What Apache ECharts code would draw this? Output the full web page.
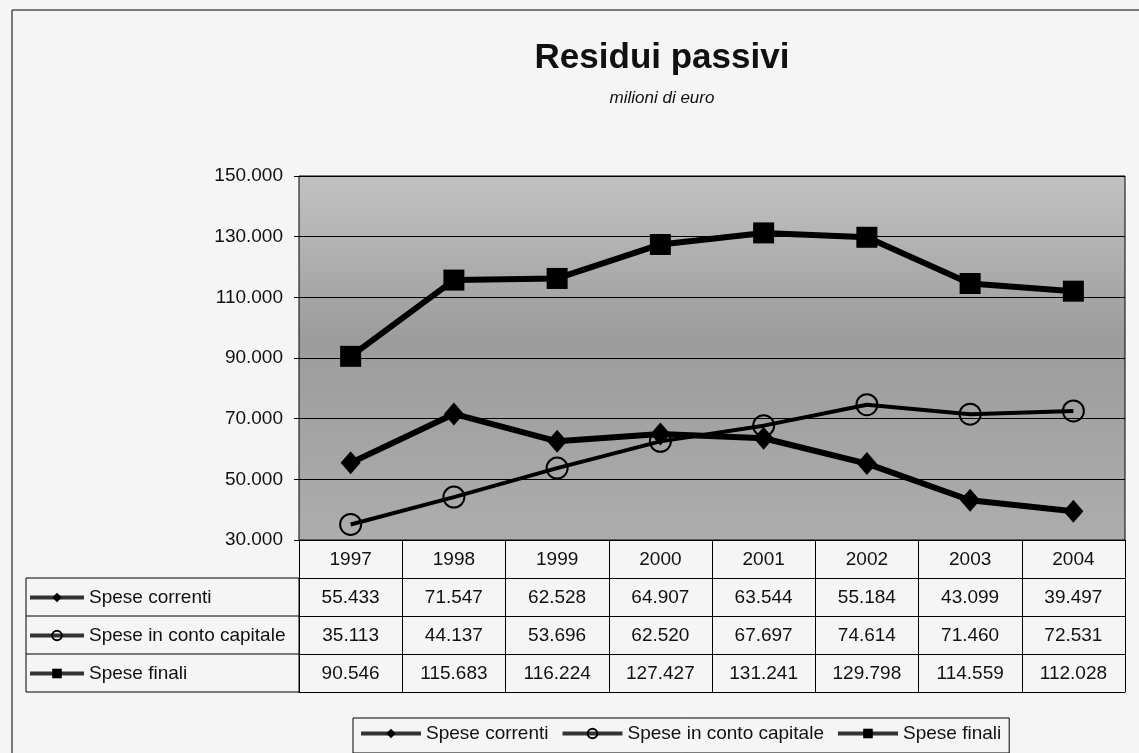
<!DOCTYPE html>
<html>
<head>
<meta charset="utf-8">
<title>Residui passivi</title>
<script src="https://cdn.jsdelivr.net/npm/echarts@6/dist/echarts.min.js"></script>
<style>
  html, body { margin: 0; padding: 0; background: #f5f5f5; }
  #chart { width: 1139px; height: 753px; }
</style>
</head>
<body>
<div id="chart"></div>
<script>
// dati (milioni di euro)
var anni = ['1997', '1998', '1999', '2000', '2001', '2002', '2003', '2004'];
var speseCorrenti = [55433, 71547, 62528, 64907, 63544, 55184, 43099, 39497];
var speseCapitale = [35113, 44137, 53696, 62520, 67697, 74614, 71460, 72531];
var speseFinali = [90546, 115683, 116224, 127427, 131241, 129798, 114559, 112028];
var nomiSerie = ['Spese correnti', 'Spese in conto capitale', 'Spese finali'];
var valoriSerie = [speseCorrenti, speseCapitale, speseFinali];

var FONT = '"Liberation Sans", Arial, sans-serif';
var ROW = 38;

// separatore migliaia con il punto
function fmt(v) {
    return String(v).replace(/\B(?=(\d{3})+(?!\d))/g, '.');
}

var myChart = echarts.init(document.getElementById('chart'));

// assi x della tabella: intestazione + una riga per serie
var xAxes = [{
    type: 'category',
    data: anni,
    position: 'bottom',
    boundaryGap: true,
    axisLine: { show: true, lineStyle: { color: '#000', width: 1 } },
    axisTick: { show: true, interval: 0, length: ROW, lineStyle: { color: '#000', width: 1 } },
    axisLabel: { interval: 0, margin: 10, fontSize: 19, color: '#111', fontFamily: FONT }
}];
valoriSerie.forEach(function (vals, i) {
    xAxes.push({
        type: 'category',
        data: anni,
        position: 'bottom',
        offset: ROW * (i + 1),
        boundaryGap: true,
        axisLine: { show: true, lineStyle: { color: '#000', width: 1 } },
        axisTick: { show: true, interval: 0, length: ROW, lineStyle: { color: '#000', width: 1 } },
        axisLabel: {
            interval: 0, margin: 10, fontSize: 19, color: '#111', fontFamily: FONT,
            formatter: function (v, idx) { return fmt(vals[idx]); }
        }
    });
});
// linea di chiusura della tabella
xAxes.push({
    type: 'category',
    data: anni,
    position: 'bottom',
    offset: ROW * 4,
    axisLine: { show: true, lineStyle: { color: '#000', width: 1 } },
    axisTick: { show: false },
    axisLabel: { show: false }
});

var simboli = ['diamond', 'circle', 'rect'];
var dimensioni = [[20, 23], 21, 21];
var spessori = [6, 4, 6];

var series = valoriSerie.map(function (vals, i) {
    return {
        name: nomiSerie[i],
        type: 'line',
        data: vals,
        symbol: simboli[i],
        symbolSize: dimensioni[i],
        showAllSymbol: true,
        lineStyle: { color: '#000', width: spessori[i] },
        itemStyle: i === 1
            ? { color: 'rgba(0,0,0,0)', borderColor: '#000', borderWidth: 2 }
            : { color: '#000', borderColor: '#000', borderWidth: 0 },
        emphasis: { disabled: true },
        z: 3 - i
    };
});

// legende: una per riga della tabella + quella in basso
var righeTop = [588, 626, 664];
var legends = nomiSerie.map(function (n, i) {
    return {
        data: [n],
        left: 28,
        top: righeTop[i],
        padding: 0,
        itemWidth: 54,
        itemHeight: 12,
        itemGap: 5,
        selectedMode: false,
        lineStyle: { width: 4, color: '#333' },
        textStyle: { fontSize: 19, color: '#111', fontFamily: FONT }
    };
});
legends.push({
    data: nomiSerie,
    left: 353,
    top: 718,
    padding: [6, 8, 10, 6],
    itemWidth: 60,
    itemHeight: 12,
    itemGap: 12,
    borderColor: '#000',
    borderWidth: 1,
    selectedMode: false,
    lineStyle: { width: 4, color: '#333' },
    textStyle: { fontSize: 19, color: '#111', fontFamily: FONT }
});

var option = {
    backgroundColor: '#f5f5f5',
    animation: false,
    title: {
        text: 'Residui passivi',
        subtext: 'milioni di euro',
        left: 657,
        top: 36,
        textAlign: 'center',
        itemGap: 14,
        textStyle: { fontSize: 35, fontWeight: 'bold', color: '#111', fontFamily: FONT },
        subtextStyle: { fontSize: 17, fontStyle: 'italic', color: '#111', fontFamily: FONT }
    },
    legend: legends,
    grid: {
        left: 299,
        right: 14,
        top: 176,
        bottom: 213,
        show: true,
        borderColor: '#000',
        borderWidth: 1,
        backgroundColor: {
            type: 'linear', x: 0, y: 0, x2: 0, y2: 1,
            colorStops: [
                { offset: 0, color: '#c2c2c2' },
                { offset: 0.45, color: '#9c9c9c' },
                { offset: 1, color: '#adadad' }
            ]
        }
    },
    xAxis: xAxes,
    yAxis: {
        type: 'value',
        min: 30000,
        max: 150000,
        interval: 20000,
        axisLine: { show: false },
        axisTick: { show: true, length: 5, lineStyle: { color: '#000' } },
        splitLine: { show: true, lineStyle: { color: '#000', width: 1 } },
        axisLabel: {
            margin: 16, fontSize: 19, color: '#111', fontFamily: FONT,
            formatter: function (v) { return fmt(v); }
        }
    },
    series: series,
    graphic: [
        // cornice esterna
        { type: 'rect', shape: { x: 12, y: 10, width: 1200, height: 800 },
          style: { fill: 'none', stroke: '#000', lineWidth: 1 }, silent: true },
        // colonna delle etichette della tabella
        { type: 'rect', shape: { x: 26, y: 578, width: 273, height: ROW * 3 },
          style: { fill: 'none', stroke: '#000', lineWidth: 1 }, silent: true },
        { type: 'line', shape: { x1: 26, y1: 578 + ROW, x2: 299, y2: 578 + ROW },
          style: { stroke: '#000', lineWidth: 1 }, silent: true },
        { type: 'line', shape: { x1: 26, y1: 578 + ROW * 2, x2: 299, y2: 578 + ROW * 2 },
          style: { stroke: '#000', lineWidth: 1 }, silent: true }
    ]
};

if (option && typeof option === 'object') {
    myChart.setOption(option, true);
}
</script>
</body>
</html>
